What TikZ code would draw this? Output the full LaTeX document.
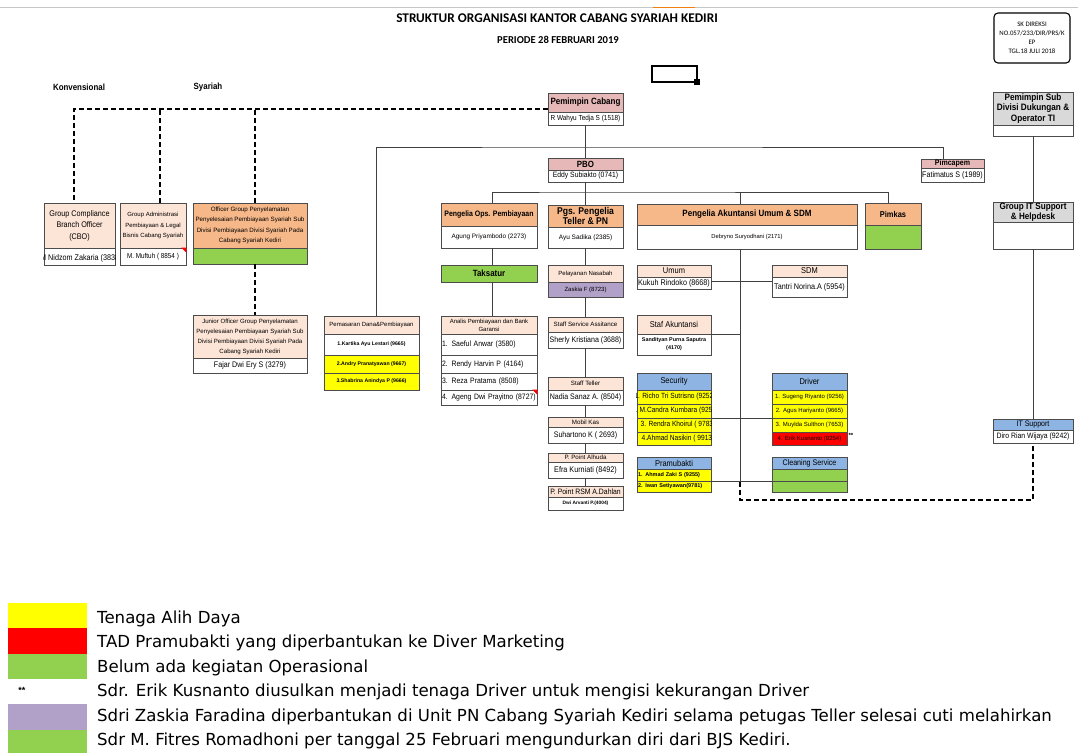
\documentclass[tikz,border=0pt]{standalone}
\usepackage{fontspec}
\setmainfont{Liberation Sans}
\newfontfamily\nar[FakeStretch=0.88]{Liberation Sans}
\newfontfamily\titlefont{Carlito}
\newfontfamily\legfont{DejaVu Sans}
\definecolor{peach}{HTML}{FCE4D6}
\definecolor{orng}{HTML}{F6B889}
\definecolor{pinkh}{HTML}{E6B8B7}
\definecolor{grayh}{HTML}{D9D9D9}
\definecolor{blueh}{HTML}{8DB4E2}
\definecolor{grn}{HTML}{92D050}
\definecolor{ylw}{HTML}{FFFF00}
\definecolor{rd}{HTML}{FF0000}
\definecolor{purp}{HTML}{B1A0C7}
\newcommand\fsz[2]{\fontsize{#1}{#2}\selectfont}
\newcommand\obox[7][]{\node[bx, minimum width={(#5-#3)*1pt}, minimum height={(#6-#4)*1pt}, #1] (#2) at ({(#3+#5)/2},{(#4+#6)/2}) {#7};}
\tikzset{
  bx/.style={draw=black!70, line width=0.7pt, inner sep=0pt, align=center, fill=white},
  ln/.style={draw=black!75, line width=0.8pt},
  dln/.style={draw=black, line width=1.3pt, dash pattern=on 5pt off 3pt},
  lgt/.style={font=\legfont\fsz{16.6}{18}, anchor=base west, inner sep=0pt},
  sw/.style={inner sep=0pt, draw=none}
}
\begin{document}
\begin{tikzpicture}[x=1pt,y=-1pt]
\useasboundingbox (0,0) rectangle (1078,753);
% top decorations
\draw[gray!45, line width=0.8pt] (0,7) -- (1078,7);
\draw[draw=orange!80!brown, line width=1pt] (653,7) -- (695,7);
\draw[line width=2pt] (652,66) rectangle (697,82);
\fill (694,79) rectangle (700,85);
% titles
\node[font=\titlefont\bfseries\fsz{13.3}{15}] (title) at (557,18) {STRUKTUR ORGANISASI KANTOR CABANG SYARIAH KEDIRI};
\node[font=\titlefont\bfseries\fsz{10.6}{12}] (period) at (558,40) {PERIODE 28 FEBRUARI 2019};
\obox[draw=black, line width=1.1pt, rounded corners=4pt, font=\titlefont\fsz{6.8}{9}]{sk}{994}{13}{1070}{63}{SK DIREKSI\\NO.057/233/DIR/PRS/K\\EP\\TGL.18 JULI 2018}
\node[font=\nar\bfseries\fsz{9}{10}] (konv) at (79,87) {Konvensional};
\node[font=\nar\bfseries\fsz{9}{10}] (syar) at (208,87) {Syariah};

% left group
\obox[fill=peach, font=\nar\fsz{8.2}{11.5}]{cboh}{44}{203}{115}{248}{Group Compliance\\Branch Officer\\(CBO)}
\obox{cbon}{44}{248}{115}{265}{}
\begin{scope}
\clip (cbon.north west) rectangle (cbon.south east);
\node[font=\nar\fsz{8.2}{10}, anchor=base west, inner sep=0pt] (cbot) at (40,260) {M Nidzom Zakaria (3838)};
\end{scope}
\obox[fill=peach, font=\fsz{6}{10.5}]{gah}{120}{203}{186}{248}{Group Administrasi\\Pembiayaan \& Legal\\Bisnis Cabang Syariah}
\obox[font=\nar\fsz{7.2}{9}]{gan}{120}{248}{186}{265}{M. Muftuh ( 8854 )}
\fill[rd] ([xshift=-5pt]gan.north east) -- (gan.north east) -- ([yshift=-5pt]gan.north east) -- cycle;
\obox[fill=orng, font=\fsz{6.2}{10.4}]{ogh}{193}{203}{307}{248}{Officer Group Penyelamatan\\Penyelesaian Pembiayaan Syariah Sub\\Divisi Pembiayaan Divisi Syariah Pada\\Cabang Syariah Kediri}
\obox[fill=grn]{ogn}{193}{248}{307}{264}{}
\obox[fill=peach, font=\fsz{6.1}{10}]{joh}{193}{315}{307}{358}{Junior Officer Group Penyelamatan\\Penyelesaian Pembiayaan Syariah Sub\\Divisi Pembiayaan Divisi Syariah Pada\\Cabang Syariah Kediri}
\obox[font=\nar\fsz{8.1}{10}]{jon}{193}{358}{307}{373}{Fajar Dwi Ery S (3279)}

% center column
\obox[fill=pinkh, font=\nar\bfseries\fsz{9.1}{10}]{pch}{548}{93}{623}{112}{Pemimpin Cabang}
\obox[font=\nar\fsz{7.3}{9}]{pcn}{548}{112}{623}{125}{R Wahyu Tedja S (1518)}
\obox[fill=pinkh, font=\nar\bfseries\fsz{9}{10}]{pboh}{548}{158}{623}{170}{PBO}
\obox[font=\nar\fsz{7.7}{9}]{pbon}{548}{170}{623}{182}{Eddy Subiakto (0741)}
\obox[fill=orng, font=\nar\bfseries\fsz{9.8}{10}]{pgsh}{548}{205}{623}{227}{Pgs. Pengelia\\Teller \& PN}
\obox[font=\fsz{6.5}{8}]{pgsn}{548}{227}{623}{248}{Ayu Sadika (2385)}
\obox[fill=peach, font=\fsz{6}{8}]{pnh}{548}{265}{623}{282}{Pelayanan Nasabah}
\obox[fill=purp, font=\fsz{6}{8}]{pnn}{548}{282}{623}{297}{Zaskia F (8723)}
\obox[fill=peach, font=\fsz{6.2}{8}]{ssah}{548}{317}{623}{332}{Staff Service Assitance}
\obox[font=\nar\fsz{8}{9}]{ssan}{548}{332}{623}{348}{Sherly Kristiana (3688)}
\obox[fill=peach, font=\fsz{6.2}{8}]{sth}{548}{377}{623}{390}{Staff Teller}
\obox[font=\nar\fsz{8}{9}]{stn}{548}{390}{623}{405}{Nadia Sanaz A. (8504)}
\obox[fill=peach, font=\fsz{6.2}{7}]{mkh}{548}{417}{623}{427}{Mobil Kas}
\obox[font=\nar\fsz{8}{9}]{mkn}{548}{427}{623}{443}{Suhartono K ( 2693)}
\obox[fill=peach, font=\fsz{6.2}{7}]{ppah}{548}{453}{623}{462}{P. Point Alhuda}
\obox[font=\nar\fsz{8.2}{9}]{ppan}{548}{462}{623}{478}{Efra Kurniati (8492)}
\obox[fill=peach, font=\nar\fsz{7.8}{8}]{pprh}{548}{486}{623}{497}{P. Point RSM A.Dahlan}
\obox[font=\bfseries\fsz{4.8}{6}]{pprn}{548}{497}{623}{510}{Dwi Arvanti P.(4004)}

% ops pembiayaan
\obox[fill=orng, font=\nar\bfseries\fsz{7.9}{9}]{poph}{441}{203}{537}{226}{Pengelia Ops. Pembiayaan}
\obox[font=\fsz{6.4}{8}]{popn}{441}{226}{537}{248}{Agung Priyambodo (2273)}
\obox[fill=grn, font=\nar\bfseries\fsz{9}{10}]{taks}{441}{265}{537}{282}{Taksatur}
\obox[fill=peach, font=\fsz{6}{8}]{anh}{441}{316}{537}{334}{Analis Pembiayaan dan Bank\\Garansi}
\obox[font=\nar\fsz{7.8}{9}, text width=94pt, align=left]{an1}{441}{334}{537}{355}{\mbox{1. Saeful Anwar (3580)}}
\obox[font=\nar\fsz{7.8}{9}, text width=94pt, align=left]{an2}{441}{355}{537}{373}{\mbox{2. Rendy Harvin P (4164)}}
\obox[font=\nar\fsz{7.8}{9}, text width=94pt, align=left]{an3}{441}{373}{537}{390}{\mbox{3. Reza Pratama (8508)}}
\obox[font=\nar\fsz{7.8}{9}, text width=94pt, align=left]{an4}{441}{390}{537}{405}{\mbox{4. Ageng Dwi Prayitno (8727)}}
\fill[rd] ([xshift=-5pt]an4.north east) -- (an4.north east) -- ([yshift=-5pt]an4.north east) -- cycle;
\obox[fill=peach, font=\fsz{6}{8}]{pmh}{324}{316}{419}{334}{Pemasaran Dana\&Pembiayaan}
\obox[font=\bfseries\fsz{5.2}{7}]{pm1}{324}{334}{419}{355}{1.Kartika Ayu Lestari (9665)}
\obox[fill=ylw, font=\bfseries\fsz{5.2}{7}]{pm2}{324}{355}{419}{373}{2.Andry Pranatyawan (9667)}
\obox[fill=ylw, font=\bfseries\fsz{5.2}{7}]{pm3}{324}{373}{419}{390}{3.Shabrina Anindya P (9666)}

% akuntansi
\obox[fill=orng, font=\nar\bfseries\fsz{9.1}{10}]{pah}{637}{204}{857}{225}{Pengelia Akuntansi Umum \& SDM}
\obox[font=\fsz{5.8}{8}]{pan}{637}{225}{857}{249}{Debryno Suryodhani (2171)}
\obox[fill=peach, font=\nar\fsz{8.5}{9}]{umh}{637}{265}{711}{277}{Umum}
\obox[font=\nar\fsz{8.2}{9}]{umn}{637}{277}{711}{289}{Kukuh Rindoko (8668)}
\obox[fill=peach, font=\nar\fsz{8.5}{9}]{sdh}{772}{265}{847}{277}{SDM}
\obox[font=\nar\fsz{8.2}{9}]{sdn}{772}{277}{847}{297}{Tantri Norina.A (5954)}
\obox[fill=peach, font=\nar\fsz{8.5}{9}]{sah}{637}{315}{711}{334}{Staf Akuntansi}
\obox[font=\bfseries\fsz{5.4}{8}]{san}{637}{334}{711}{355}{Sandityan Purna Saputra\\(4170)}
\obox[fill=blueh, font=\nar\fsz{8.5}{9}]{sech}{637}{373}{711}{390}{Security}
\obox[fill=ylw]{sec1}{637}{390}{711}{404}{}
\obox[fill=ylw]{sec2}{637}{404}{711}{418}{}
\obox[fill=ylw]{sec3}{637}{418}{711}{432}{}
\obox[fill=ylw]{sec4}{637}{432}{711}{445}{}
\begin{scope}
\clip (sec1.north west) rectangle (sec4.south east);
\node[font=\nar\fsz{7.5}{9}, inner sep=0pt] (sect1) at ([xshift=1pt]sec1.center) {1. Richo Tri Sutrisno (9252)};
\node[font=\nar\fsz{7.5}{9}, inner sep=0pt] (sect2) at ([xshift=1pt]sec2.center) {2. M.Candra Kumbara (9253)};
\node[font=\nar\fsz{7.5}{9}, inner sep=0pt] (sect3) at ([xshift=4pt]sec3.center) {3. Rendra Khoirul ( 9783)};
\node[font=\nar\fsz{7.5}{9}, inner sep=0pt] (sect4) at ([xshift=4pt]sec4.center) {4.Ahmad Nasikin ( 9913)};
\end{scope}
\obox[fill=blueh, font=\nar\fsz{8.5}{9}]{drvh}{772}{373}{847}{390}{Driver}
\obox[fill=ylw, font=\fsz{6}{8}]{drv1}{772}{390}{847}{404}{1. Sugeng Riyanto (9256)}
\obox[fill=ylw, font=\fsz{6}{8}]{drv2}{772}{404}{847}{418}{2. Agus Hariyanto (9665)}
\obox[fill=ylw, font=\fsz{6}{8}]{drv3}{772}{418}{847}{432}{3. Muylda Sulthon (7653)}
\obox[fill=rd, font=\fsz{6}{8}]{drv4}{772}{432}{847}{445}{4. Erik Kusnanto (9254)}
\node[font=\bfseries\fsz{6}{7}, anchor=west, inner sep=0pt] (ast) at ([xshift=1pt,yshift=3pt]drv4.east) {**};
\obox[fill=blueh, font=\nar\fsz{8.5}{9}]{prh}{637}{457}{711}{469}{Pramubakti}
\obox[fill=ylw, font=\bfseries\fsz{5.5}{7}, text width=72pt, align=left]{pr1}{637}{469}{711}{481}{\mbox{1. Ahmad Zaki S (9255)}}
\obox[fill=ylw, font=\bfseries\fsz{5.5}{7}, text width=72pt, align=left]{pr2}{637}{481}{711}{492}{\mbox{2. Iwan Setiyawan(9781)}}
\obox[fill=blueh, font=\nar\fsz{8.1}{9}]{clh}{772}{457}{847}{469}{Cleaning Service}
\obox[fill=grn]{cl1}{772}{469}{847}{481}{}
\obox[fill=grn]{cl2}{772}{481}{847}{492}{}

% right group
\obox[fill=orng, font=\nar\bfseries\fsz{8.5}{9}]{pkh}{865}{203}{921}{225}{Pimkas}
\obox[fill=grn]{pkn}{865}{225}{921}{249}{}
\obox[fill=pinkh, font=\nar\bfseries\fsz{8}{8}]{pcph}{921}{159}{984}{168}{Pimcapem}
\obox[font=\nar\fsz{8.1}{9}]{pcpn}{921}{168}{984}{182}{Fatimatus S (1989)}
\obox[fill=grayh, font=\nar\bfseries\fsz{9.3}{10.5}]{psdh}{993}{92}{1073}{125}{Pemimpin Sub\\Divisi Dukungan \&\\Operator TI}
\obox{psdn}{993}{125}{1073}{136}{}
\obox[fill=grayh, font=\nar\bfseries\fsz{9.2}{9.8}]{gith}{993}{202}{1073}{222}{Group IT Support\\\& Helpdesk}
\obox{gitn}{993}{222}{1073}{249}{}
\obox[fill=blueh, font=\nar\fsz{8}{8.5}]{itsh}{993}{419}{1073}{430}{IT Support}
\obox[font=\nar\fsz{7.8}{9}]{itsn}{993}{430}{1073}{443}{Diro Rian Wijaya (9242)}

% connectors
\coordinate (pcL) at ([yshift=-6.5pt]pch.west);
\coordinate (cboT) at ([xshift=-5.5pt]cboh.north);
\coordinate (gaT) at ([xshift=7pt]gah.north);
\coordinate (ogT) at ([xshift=5pt]ogh.north);
\draw[dln] (pcL) -| (cboT);
\draw[dln] (gaT) -- (gaT |- pcL);
\draw[dln] (ogT) -- (ogT |- pcL);
\draw[dln] ([xshift=5pt]ogn.south) -- ([xshift=5pt]joh.north);

\coordinate (j1) at (pcn.south |- 0,147);
\coordinate (j2) at (pbon.south |- 0,192);
\coordinate (pmT) at ([xshift=4.5pt]pmh.north);
\coordinate (pcpT) at ([xshift=-9.5pt]pcph.north);
\coordinate (popT) at ([xshift=3pt]poph.north);
\coordinate (pkT) at ([xshift=-5pt]pkh.north);
\coordinate (paT) at ([xshift=-7pt]pah.north);
\draw[ln] (pcn.south) -- (pboh.north);
\draw[ln] (pmT) |- (j1) -| (pcpT);
\draw[ln] (pbon.south) -- (pgsh.north);
\draw[ln] (popT) |- (j2) -| (pkT);
\draw[ln] (paT) -- (paT |- j2);
\draw[ln] ([xshift=3pt]popn.south) -- ([xshift=3pt]taks.north);
\draw[ln] ([xshift=3pt]taks.south) -- ([xshift=3pt]anh.north);
\draw[ln] (pgsn.south) -- (pnh.north);
\draw[ln] (pnn.south) -- (ssah.north);
\draw[ln] (ssan.south) -- (sth.north);
\draw[ln] (stn.south) -- (mkh.north);
\draw[ln] (mkn.south) -- (ppah.north);
\draw[ln] (ppan.south) -- (pprh.north);
\draw[ln] (psdn.south) -- (gith.north);
\draw[ln] (gitn.south) -- (itsh.north);

\coordinate (pv) at ([xshift=-7pt]pan.south);
\coordinate (vb) at (pv |- 0,482);
\coordinate (vd) at (pv |- 0,500);
\draw[ln] (pv) -- (vb);
\draw[dln] (vb) -- (vd) -| (itsn.south);
\coordinate (uE) at ([yshift=2pt]umn.east);
\draw[ln] (uE) -- (uE -| sdn.west);
\draw[ln] (sah.south east) -- (sah.south east -| pv);
\draw[ln] (sec2.south east) -- (drv2.south west);
\draw[ln] (pr1.south east) -- (cl1.south west);

% legend
\obox[sw, fill=ylw]{lg1}{8}{603}{87}{628}{}
\obox[sw, fill=rd]{lg2}{8}{628}{87}{654}{}
\obox[sw, fill=grn]{lg3}{8}{654}{87}{679}{}
\node[font=\bfseries\fsz{9}{10}] (lg4) at (22,690) {**};
\obox[sw, fill=purp]{lg5}{8}{704}{87}{730}{}
\obox[sw, fill=grn]{lg6}{8}{730}{87}{753}{}
\node[lgt] (lt1) at (97,623) {Tenaga Alih Daya};
\node[lgt] (lt2) at (97,647.5) {TAD Pramubakti yang diperbantukan ke Diver Marketing};
\node[lgt] (lt3) at (97,672) {Belum ada kegiatan Operasional};
\node[lgt] (lt4) at (97,696.5) {Sdr. Erik Kusnanto diusulkan menjadi tenaga Driver untuk mengisi kekurangan Driver};
\node[lgt] (lt5) at (97,721) {Sdri Zaskia Faradina diperbantukan di Unit PN Cabang Syariah Kediri selama petugas Teller selesai cuti melahirkan};
\node[lgt] (lt6) at (97,745) {Sdr M. Fitres Romadhoni per tanggal 25 Februari mengundurkan diri dari BJS Kediri.};
\end{tikzpicture}
\end{document}
